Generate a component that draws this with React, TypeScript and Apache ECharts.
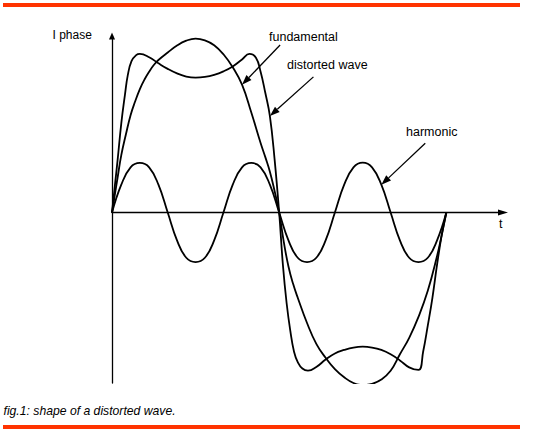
import { useEffect, useRef } from "react";
import * as echarts from "echarts";

// Phase angle (degrees) and current (fundamental peak = 1) for each curve
const fundamentalT = [0, 3, 6, 10, 15, 20, 25, 30, 35, 40, 45, 50, 60, 70, 80, 90, 100, 110, 120, 130, 140, 150, 160, 165, 170, 175, 180,
  185, 190, 195, 200, 210, 220, 230, 240, 250, 260, 270, 280, 290, 300, 310, 320, 330, 340, 350, 355, 360];
const fundamentalI = [0, 0.1, 0.2, 0.33, 0.45, 0.56, 0.64, 0.71, 0.765, 0.81, 0.848, 0.877, 0.92, 0.96, 0.988, 1.0, 0.99, 0.962, 0.91, 0.835, 0.735, 0.575, 0.4, 0.32, 0.235, 0.125, 0,
  -0.17, -0.31, -0.41, -0.49, -0.635, -0.755, -0.835, -0.9, -0.947, -0.98, -0.992, -0.985, -0.96, -0.91, -0.815, -0.72, -0.6, -0.45, -0.25, -0.13, 0];

const distortedT = [0, 3, 6, 10, 14, 17, 21, 26, 30, 40, 50, 60, 70, 80, 90, 100, 110, 120, 130, 140, 148, 155, 160, 165, 170, 175, 180,
  184, 188, 192, 196, 200, 205, 211, 220, 230, 240, 250, 260, 270, 280, 290, 300, 310, 320, 330, 335, 340, 345, 350, 355, 360];
const distortedI = [0, 0.15, 0.3, 0.513, 0.68, 0.79, 0.87, 0.905, 0.912, 0.893, 0.858, 0.826, 0.8, 0.782, 0.776, 0.78, 0.792, 0.812, 0.84, 0.88, 0.912, 0.89, 0.81, 0.69, 0.555, 0.31, 0,
  -0.3, -0.52, -0.68, -0.8, -0.86, -0.897, -0.909, -0.888, -0.845, -0.81, -0.79, -0.776, -0.771, -0.776, -0.79, -0.815, -0.85, -0.89, -0.905, -0.8, -0.65, -0.49, -0.3, -0.13, 0];

const harmonicT = [0, 10, 20, 30, 40, 50, 60, 70, 80, 90, 100, 110, 120, 130, 140, 150, 160, 170, 180,
  190, 200, 210, 220, 230, 240, 250, 260, 270, 280, 290, 300, 310, 320, 330, 340, 350, 360];
const harmonicI = [0, 0.16, 0.26, 0.285, 0.26, 0.16, 0, -0.16, -0.26, -0.285, -0.26, -0.16, 0, 0.16, 0.26, 0.285, 0.26, 0.16, 0,
  -0.16, -0.26, -0.285, -0.26, -0.16, 0, 0.16, 0.26, 0.287, 0.26, 0.16, 0, -0.16, -0.26, -0.285, -0.26, -0.16, 0];

const FONT = "'Liberation Sans', Arial, Helvetica, sans-serif";
const ACCENT = "#ff3300";

export default function App() {
  const ref = useRef<HTMLDivElement>(null);

  useEffect(() => {
    document.body.style.margin = "0";
    const chart = echarts.init(ref.current!, null, { renderer: "svg" });

    const zip = (t: number[], v: number[]) => t.map((x, i) => [x, v[i]]);
    const curve = (name: string, t: number[], v: number[]) => ({
      type: "line",
      name,
      data: zip(t, v),
      showSymbol: false,
      smooth: 0.45,
      silent: true,
      lineStyle: { color: "#000", width: 1.8 },
    });
    const hidden = { axisTick: { show: false }, axisLabel: { show: false }, splitLine: { show: false } };

    chart.setOption({
      animation: false,
      backgroundColor: "#fff",
      grid: { left: 112, top: 36, width: 391, height: 347 },
      xAxis: {
        type: "value", min: 0, max: 421,
        axisLine: { onZero: true, symbol: ["none", "triangle"], symbolSize: [6, 10], lineStyle: { color: "#000", width: 1.3 } },
        ...hidden,
      },
      yAxis: {
        type: "value", min: -0.98, max: 1.015,
        axisLine: { show: true, symbol: ["none", "triangle"], symbolSize: [6, 7], lineStyle: { color: "#000", width: 1.3 } },
        ...hidden,
      },
      series: [
        curve("fundamental", fundamentalT, fundamentalI),
        curve("distorted wave", distortedT, distortedI),
        curve("harmonic", harmonicT, harmonicI),
      ],
    });

    // Leader arrows from each label to its curve, anchored in data space
    const px = (p: number[]) => chart.convertToPixel({ gridIndex: 0 }, p) as number[];
    const arrow = (from: number[], to: number[]) => {
      const a = px(from);
      const b = px(to);
      const dx = b[0] - a[0];
      const dy = b[1] - a[1];
      const len = Math.hypot(dx, dy);
      const ux = dx / len;
      const uy = dy / len;
      const L = 10;
      const W = 3.5;
      const base = [b[0] - ux * L, b[1] - uy * L];
      return [
        { type: "line", silent: true, shape: { x1: a[0], y1: a[1], x2: base[0], y2: base[1] }, style: { stroke: "#000", lineWidth: 1.3 } },
        {
          type: "polygon", silent: true,
          shape: { points: [b, [base[0] - uy * W, base[1] + ux * W], [base[0] + uy * W, base[1] - ux * W]] },
          style: { fill: "#000" },
        },
      ];
    };
    const label = (text: string, x: number, y: number, size = 12.5, italic = false) => ({
      type: "text", x, y, silent: true,
      style: { text, fill: "#000", fontSize: size, fontFamily: FONT, fontStyle: italic ? "italic" : "normal", verticalAlign: "middle" },
    });

    chart.setOption({
      graphic: [
        { type: "rect", silent: true, shape: { x: 3, y: 3, width: 517, height: 4 }, style: { fill: ACCENT } },
        { type: "rect", silent: true, shape: { x: 3, y: 425, width: 517, height: 4 }, style: { fill: ACCENT } },
        ...arrow([181, 0.963], [140, 0.735]),
        ...arrow([216.9, 0.78], [170, 0.555]),
        ...arrow([337.3, 0.398], [290, 0.16]),
        label("I phase", 52.5, 35, 12),
        label("fundamental", 269, 36.5),
        label("distorted wave", 287, 65),
        label("harmonic", 406, 132.4),
        label("t", 499, 224),
        label("fig.1: shape of a distorted wave.", 3.5, 410.7, 12.2, true),
      ],
    });

    return () => chart.dispose();
  }, []);

  return <div ref={ref} style={{ width: 551, height: 432 }} />;
}
